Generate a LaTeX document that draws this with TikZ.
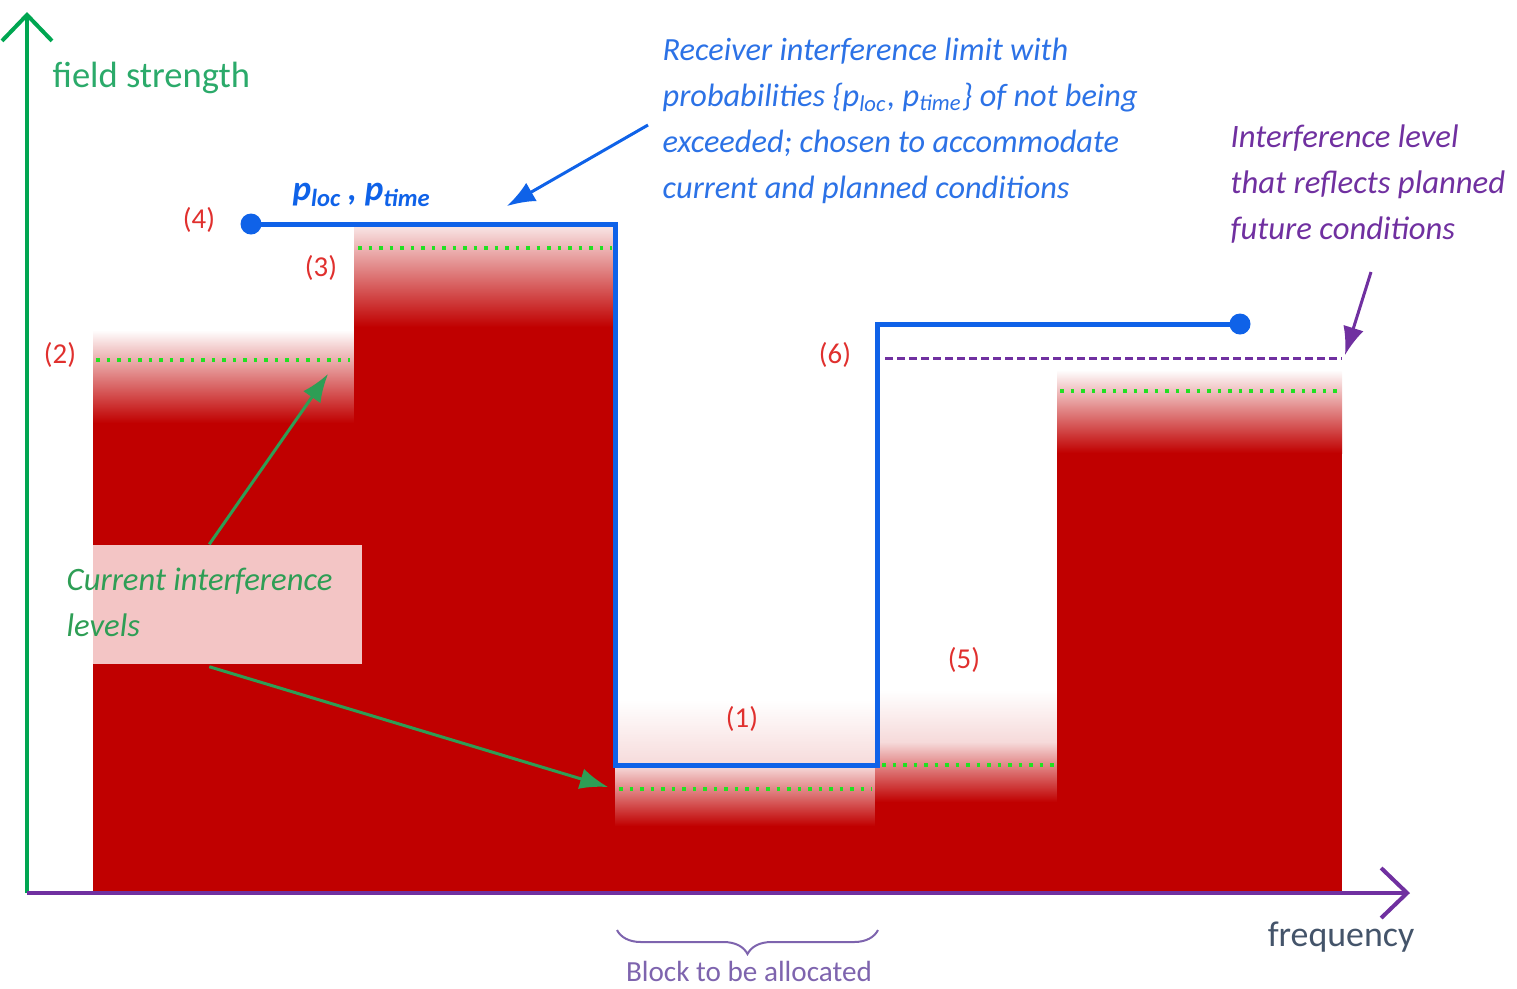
\documentclass[tikz,border=0pt]{standalone}
\usepackage{fontspec}
\setmainfont{Carlito}
\usepackage{tikz}
\usetikzlibrary{arrows.meta,decorations.pathreplacing,positioning}
\tikzset{>={Latex[width=6pt,length=8pt]}}

\definecolor{rdark}{HTML}{C00000}
\definecolor{rpale}{HTML}{F6DADA}
\definecolor{limblue}{HTML}{0F62E8}
\definecolor{txtblue}{HTML}{2C72E6}
\definecolor{axgreen}{HTML}{00A651}
\definecolor{fsgreen}{HTML}{2BAA6A}
\definecolor{argreen}{HTML}{2E9E55}
\definecolor{dotgreen}{HTML}{22E022}
\definecolor{vpurple}{HTML}{7030A0}
\definecolor{brpurple}{HTML}{7E64AE}
\definecolor{numred}{HTML}{E0302E}
\definecolor{boxpink}{HTML}{F3C5C5}
\definecolor{slate}{HTML}{44546A}

\tikzset{
  numlab/.style={text=numred, font=\fontsize{8.2}{9}\selectfont, inner sep=0pt},
  curlevel/.style={dotgreen, line width=0.4mm, dash pattern=on 0.35mm off 0.7mm},
  limline/.style={limblue, line width=0.5mm, line join=miter},
  greenarr/.style={->, argreen, line width=0.3mm},
}

\begin{document}
\begin{tikzpicture}[x=0.1mm, y=-0.1mm]
  \useasboundingbox (0,0) rectangle (1517,988);

  %% interference blocks (shaded top, solid below)
  \shade[top color=white, bottom color=rdark] (93,330) rectangle (354,423);
  \fill[rdark] (93,423) rectangle (354,893);
  \shade[top color=white!90!rdark, bottom color=rdark] (354,226) rectangle (615,327);
  \fill[rdark] (354,327) rectangle (615,893);
  \shade[top color=white, bottom color=rpale] (615,700) rectangle (875,766);
  \shade[top color=rpale, bottom color=rdark] (615,766) rectangle (875,826);
  \fill[rdark] (615,826) rectangle (875,893);
  \shade[top color=white, bottom color=rpale] (875,690) rectangle (1057,742);
  \shade[top color=rpale, bottom color=rdark] (875,742) rectangle (1057,802);
  \fill[rdark] (875,802) rectangle (1057,893);
  \shade[top color=white, bottom color=rdark] (1057,370) rectangle (1342,453);
  \fill[rdark] (1057,453) rectangle (1342,893);

  %% current levels
  \draw[curlevel] (96,360) -- (350,360);
  \draw[curlevel] (358,248) -- (612,248);
  \draw[curlevel] (619,789) -- (872,789);
  \draw[curlevel] (882,765) -- (1055,765);
  \draw[curlevel] (1060,391) -- (1338,391);

  %% planned level
  \draw[vpurple, line width=0.3mm, dash pattern=on 0.75mm off 0.45mm] (885,358) -- (1342,358);

  %% axes
  \coordinate (orig) at (27,893);
  \coordinate (ytop) at (27,12);
  \coordinate (xend) at (1410,893);
  \draw[axgreen, line width=0.4mm, -{Straight Barb[length=2.6mm,width=5mm,line width=0.4mm]}] (orig) -- (ytop);
  \draw[vpurple, line width=0.4mm, -{Straight Barb[length=2.6mm,width=5mm,line width=0.4mm]}] (orig) -- (xend);
  \node[text=fsgreen, font=\fontsize{10.4}{12}\selectfont, anchor=west, inner sep=0pt] (fstr) at (52,78) {field strength};
  \node[text=slate, font=\fontsize{10.2}{12}\selectfont] (freq) at (1341,937) {frequency};

  %% receiver limit
  \coordinate (lim4) at (251,224);
  \coordinate (lim6) at (1240,324);
  \draw[limline] (lim4) -- (615,224) -- (615,765) -- (877,765) -- (877,324) -- (lim6);
  \fill[limblue] (lim4) circle[radius=1.05mm];
  \fill[limblue] (lim6) circle[radius=1.05mm];
  \node[text=limblue, font=\fontsize{10}{12}\bfseries\itshape\selectfont] (prob) at (362,195)
    {p\textsubscript{loc}\,, p\textsubscript{time}};

  %% numbered levels
  \node[numlab] (lab4) at (199,220) {(4)};
  \node[numlab] (lab3) at (321,268) {(3)};
  \node[numlab] (lab2) at (60,355) {(2)};
  \node[numlab] (lab1) at (742,719) {(1)};
  \node[numlab] (lab5) at (964,660) {(5)};
  \node[numlab] (lab6) at (835,355) {(6)};

  %% annotation: receiver limit
  \node[text=txtblue, font=\fontsize{9.2}{13.1}\itshape\selectfont, align=left, anchor=north west, inner sep=0pt]
    (limtxt) at (662,37) {Receiver interference limit with\\
      probabilities \{p\textsubscript{loc}, p\textsubscript{time}\} of not being\\
      exceeded; chosen to accommodate\\
      current and planned conditions};
  \coordinate (limfrom) at (648,125);
  \coordinate (limto) at (507,206);
  \draw[->, limblue, line width=0.3mm] (limfrom) -- (limto);

  %% annotation: planned level
  \node[text=vpurple, font=\fontsize{9.3}{13.1}\itshape\selectfont, align=left, anchor=north west, inner sep=0pt]
    (plantxt) at (1230,124) {Interference level\\that reflects planned\\future conditions};
  \coordinate (planfrom) at (1371,272);
  \coordinate (planto) at (1345,355);
  \draw[->, vpurple, line width=0.3mm] (planfrom) -- (planto);

  %% annotation: current levels
  \node[fill=boxpink, minimum width=26.9mm, minimum height=11.9mm, inner sep=0pt] (curbox) at (227.5,604.5) {};
  \node[text=argreen, font=\fontsize{9.3}{13.1}\itshape\selectfont, align=left, anchor=north west, inner sep=0pt]
    (curtxt) at (66,567) {Current interference\\levels};
  \coordinate (cur2) at (328,374);
  \coordinate (cur1) at (608,787);
  \draw[greenarr] (curbox.north west) ++(117,0) coordinate (curtop) -- (cur2);
  \draw[greenarr] (curbox.south west) ++(117,2) coordinate (curbot) -- (cur1);

  %% allocated block
  \draw[brpurple, line width=0.2mm, decorate, decoration={brace, mirror, amplitude=2.4mm}] (617,930) -- (878,930);
  \node[text=brpurple, font=\fontsize{8.3}{10}\selectfont] (blk) at (749,971) {Block to be allocated};
\end{tikzpicture}
\end{document}
